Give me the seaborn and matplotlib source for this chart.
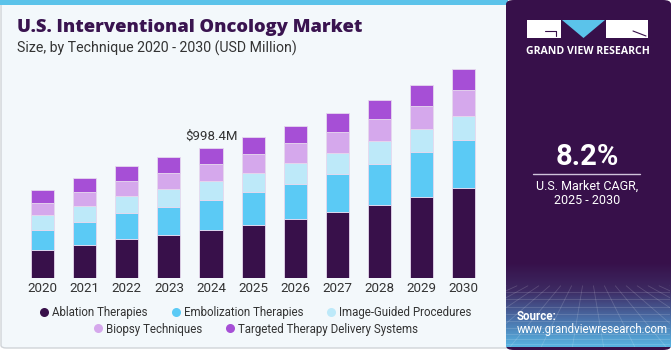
import numpy as np
import pandas as pd
import matplotlib
matplotlib.use("Agg")
import matplotlib.pyplot as plt
import seaborn as sns
from matplotlib.patches import Rectangle, FancyBboxPatch, Polygon
from matplotlib.lines import Line2D
from matplotlib.colors import LinearSegmentedColormap

# ---- data (USD Million) ----
years = ["2020", "2021", "2022", "2023", "2024", "2025", "2026", "2027", "2028", "2029", "2030"]
ablation = [218, 257, 300, 333, 369, 410, 453, 504, 560, 621, 692]
embolization = [153, 173, 199, 212, 229, 248, 267, 293, 313, 341, 367]
image_guided = [110, 125, 127, 138, 143, 150, 160, 160, 173, 176, 183]
biopsy = [94, 102, 115, 125, 131, 141, 150, 160, 168, 180, 194]
targeted = [97, 107, 115, 115, 126, 130, 135, 143, 145, 156, 160]
series_names = ["Ablation Therapies", "Embolization Therapies", "Image-Guided Procedures",
                "Biopsy Techniques", "Targeted Therapy Delivery Systems"]
colors = ["#38104a", "#5bcaf5", "#bde9f9", "#d5a8ec", "#a64fd6"]
annot_year = "2024"
annot_text = "$998.4M"

sns.set_theme(style="white")
plt.rcParams["font.family"] = ["Roboto", "DejaVu Sans"]

W, H = 671, 350
fig = plt.figure(figsize=(W / 100, H / 100), dpi=100)
fig.patch.set_facecolor("white")

def fx(x): return x / W
def fy(y): return 1 - y / H

# left panel background
fig.patches.append(FancyBboxPatch((fx(1), fy(348)), fx(520), fy(2) - fy(348),
                                  boxstyle="round,pad=0,rounding_size=0.008",
                                  transform=fig.transFigure, facecolor="#f3f8fb",
                                  edgecolor="#d0d4d8", linewidth=1.0, zorder=-10))
fig.patches.append(Rectangle((fx(0), fy(5)), fx(508), fy(0) - fy(5), transform=fig.transFigure,
                             facecolor="#5bc3ea", edgecolor="none", zorder=-9))

# right panel
fig.patches.append(FancyBboxPatch((fx(506), fy(350)), fx(671 - 506), 1.0,
                                  boxstyle="round,pad=0,rounding_size=0.012",
                                  transform=fig.transFigure, facecolor="#37104a",
                                  edgecolor="none", zorder=-8))
# gradient at bottom of right panel
gax = fig.add_axes([fx(506), fy(347), fx(671 - 506 - 1), fy(262) - fy(347)])
gax.set_zorder(1)
grad = np.linspace(0, 1, 100)[:, None]
cmap = LinearSegmentedColormap.from_list("g", ["#37104a", "#3d2a62", "#4a6fa8", "#58b4e2"])
gax.imshow(grad, aspect="auto", cmap=cmap, extent=[0, 1, 0, 1], origin="upper")
for i in np.linspace(-1.5, 2.5, 22):
    gax.plot([0.5 + (i - 0.5) * 0.35, i], [0.72, 0], color="white", alpha=0.16, lw=0.6)
for j in np.linspace(0, 0.72, 10) ** 1.3:
    gax.plot([0, 1], [j, j], color="white", alpha=0.16, lw=0.6)
gax.set_xlim(0, 1); gax.set_ylim(0, 1)
gax.axis("off")

# logo
fig.patches.append(Rectangle((fx(527), fy(38)), fx(34), fy(20) - fy(38), transform=fig.transFigure,
                             facecolor="white", edgecolor="none", zorder=5))
fig.patches.append(Rectangle((fx(606), fy(38)), fx(42), fy(20) - fy(38), transform=fig.transFigure,
                             facecolor="white", edgecolor="none", zorder=5))
fig.patches.append(Polygon([(fx(562), fy(20)), (fx(605), fy(20)), (fx(583.5), fy(38))],
                           closed=True, transform=fig.transFigure, facecolor="#5bc3ea",
                           edgecolor="none", zorder=5))
fig.lines.append(Line2D([fx(545), fx(556)], [fy(31), fy(31)], transform=fig.transFigure,
                        color="#37104a", lw=0.8, zorder=6))
fig.lines.append(Line2D([fx(556), fx(556)], [fy(31), fy(36)], transform=fig.transFigure,
                        color="#37104a", lw=0.8, zorder=6))
fig.lines.append(Line2D([fx(633), fx(646)], [fy(31), fy(36)], transform=fig.transFigure,
                        color="#37104a", lw=0.8, zorder=6))
fig.text(fx(587.5), fy(51), "GRAND VIEW RESEARCH", color="white", fontsize=7.6,
         fontweight="bold", family=["Open Sans", "DejaVu Sans"],
         ha="center", va="center", zorder=6)

fig.text(fx(587), fy(157), "8.2%", color="white", fontsize=21, fontweight="bold",
         ha="center", va="center", zorder=6)
fig.lines.append(Line2D([fx(533), fx(640)], [fy(173.5), fy(173.5)], transform=fig.transFigure,
                        color="#cfc3da", lw=1.0, zorder=6))
fig.text(fx(587), fy(186), "U.S. Market CAGR,", color="white", fontsize=9,
         ha="center", va="center", zorder=6)
fig.text(fx(587), fy(201), "2025 - 2030", color="white", fontsize=9,
         ha="center", va="center", zorder=6)
fig.text(fx(517), fy(316), "Source:", color="white", fontsize=8.3, fontweight="bold",
         ha="left", va="center", zorder=6)
fig.text(fx(517), fy(329.5), "www.grandviewresearch.com", color="white", fontsize=8.3,
         ha="left", va="center", zorder=6)

# titles
fig.text(fx(17), fy(28), "U.S. Interventional Oncology Market", color="#3a1450",
         fontsize=13.2, fontweight="heavy", family=["Open Sans", "DejaVu Sans"],
         ha="left", va="center", zorder=6)
fig.text(fx(17), fy(48.5), "Size, by Technique 2020 - 2030 (USD Million)", color="#333333",
         fontsize=10.2, ha="left", va="center", zorder=6)

# chart axes
scale = 998.4 / 130.7  # USD M per pixel
top_val = 1800
ax = fig.add_axes([fx(21.6), fy(278.3), fx(463), (top_val / scale) / H])
ax.set_zorder(2)
ax.set_facecolor("none")
df = pd.DataFrame({"year": years, "a": ablation, "b": embolization, "c": image_guided,
                   "d": biopsy, "e": targeted})
bottom = np.zeros(len(years))
for col, name, c in zip(["a", "b", "c", "d", "e"], series_names, colors):
    sns.barplot(data=df, x="year", y=col, color=c, bottom=bottom, width=0.55, ax=ax,
                edgecolor="#e6d8ee", linewidth=0.6, saturation=1, zorder=3)
    bottom = bottom + df[col].values

ax.set_xlim(-0.5, len(years) - 0.5)
ax.set_ylim(0, top_val)
idx = years.index(annot_year)
ax.text(idx, bottom[idx] + 40, annot_text, ha="center", va="bottom", fontsize=9.5, color="#333333")
ax.set_xlabel(""); ax.set_ylabel("")
ax.set_yticks([])
ax.tick_params(axis="x", length=0, pad=3, labelsize=9.6, labelcolor="#333333")
for s in ax.spines.values():
    s.set_visible(False)

# legend
def handles(idxs):
    return [Line2D([], [], marker="o", linestyle="none", markersize=6.5,
                   markerfacecolor=colors[i], markeredgecolor="none") for i in idxs]

leg1 = fig.legend(handles([0, 1, 2]), series_names[:3], loc="center", ncol=3,
                  bbox_to_anchor=(fx(255), fy(312.5)), frameon=False, fontsize=8.3,
                  handletextpad=0.2, columnspacing=1.9, handlelength=1.0, borderpad=0)
leg2 = fig.legend(handles([3, 4]), series_names[3:], loc="center", ncol=2,
                  bbox_to_anchor=(fx(255), fy(329)), frameon=False, fontsize=8.3,
                  handletextpad=0.2, columnspacing=1.9, handlelength=1.0, borderpad=0)
for lg in (leg1, leg2):
    for t in lg.get_texts():
        t.set_color("#333333")

fig.savefig("out.png", dpi=100)
